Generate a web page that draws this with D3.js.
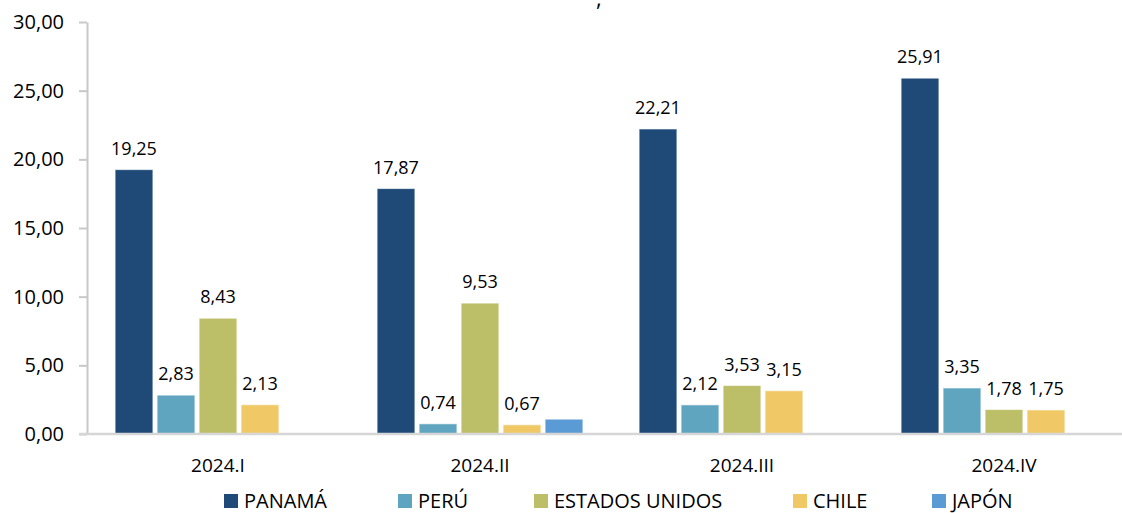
<!DOCTYPE html>
<html>
<head>
<meta charset="utf-8">
<script src="https://cdn.jsdelivr.net/npm/d3@7"></script>
<style>
  body { margin: 0; background: #fff; }
  svg { font-family: "Open Sans", sans-serif; }
</style>
</head>
<body>
<div id="container"></div>
<script>
const categories = ["2024.I", "2024.II", "2024.III", "2024.IV"];
const series = ["PANAMÁ", "PERÚ", "ESTADOS UNIDOS", "CHILE", "JAPÓN"];
const panama = [19.25, 17.87, 22.21, 25.91];
const peru = [2.83, 0.74, 2.12, 3.35];
const estadosUnidos = [8.43, 9.53, 3.53, 1.78];
const chile = [2.13, 0.67, 3.15, 1.75];
const japon = [null, 1.08, null, null];
const yTicks = [0, 5, 10, 15, 20, 25, 30];
const colors = ["#1f4a78", "#5fa5c0", "#bcbf68", "#f0c966", "#5b9bd5"];
const showLabel = [true, true, true, true, false];

const valuesBySeries = [panama, peru, estadosUnidos, chile, japon];

const width = 1122;
const height = 513;

const svg = d3.select("#container").append("svg")
  .attr("width", width).attr("height", height);

const y = d3.scaleLinear().domain([0, 30]).range([434, 22]);
const x0 = d3.scaleBand().domain(categories).range([87, 1135]).paddingInner(0);
const x1 = d3.scaleBand().domain(series).range([26, x0.bandwidth() - 26])
  .paddingInner(0.1).paddingOuter(0.05);

const fmt = (v) => v.toFixed(2).replace(".", ",");

// cut-off title fragment
svg.append("text").attr("x", 596).attr("y", 6).attr("font-size", 22)
  .attr("fill", "#000").text(",");

// y axis
const yAxis = svg.append("g").attr("transform", "translate(87,0)")
  .call(d3.axisLeft(y).tickValues(yTicks).tickFormat(fmt).tickSizeInner(8).tickSizeOuter(0).tickPadding(15));
yAxis.select(".domain").attr("stroke", "#c8c8c8").attr("stroke-width", 2);
yAxis.selectAll(".tick line").attr("stroke", "#c8c8c8").attr("stroke-width", 2);
yAxis.selectAll(".tick text").attr("font-size", 20).attr("fill", "#000")
  .attr("font-family", "'Open Sans', sans-serif");

// bars
const groups = svg.selectAll("g.grp").data(categories).enter().append("g")
  .attr("class", "grp")
  .attr("transform", (d) => `translate(${x0(d)},0)`);

groups.each(function (cat, ci) {
  const g = d3.select(this);
  series.forEach((s, si) => {
    const v = valuesBySeries[si][ci];
    if (v == null) return;
    g.append("rect")
      .attr("x", x1(s))
      .attr("y", y(v))
      .attr("width", x1.bandwidth())
      .attr("height", y(0) - y(v))
      .attr("fill", colors[si])
      .attr("stroke", "#ffffff")
      .attr("stroke-opacity", 0.6)
      .attr("stroke-width", 1);
    if (showLabel[si]) {
      g.append("text")
        .attr("x", x1(s) + x1.bandwidth() / 2)
        .attr("y", y(v) - 15)
        .attr("text-anchor", "middle")
        .attr("font-size", 18)
        .attr("fill", "#000")
        .text(fmt(v));
    }
  });
});

// baseline
svg.append("line").attr("x1", 79).attr("x2", width).attr("y1", y(0)).attr("y2", y(0))
  .attr("stroke", "#d6d6d6").attr("stroke-width", 2.5);

// category labels
svg.selectAll("text.cat").data(categories).enter().append("text")
  .attr("class", "cat")
  .attr("x", (d) => x0(d) + x0.bandwidth() / 2)
  .attr("y", 472)
  .attr("text-anchor", "middle")
  .attr("font-size", 19)
  .attr("fill", "#000")
  .text((d) => d);

// legend
const legendX = [224, 398, 534, 793, 932];
const legend = svg.selectAll("g.leg").data(series).enter().append("g")
  .attr("class", "leg")
  .attr("transform", (d, i) => `translate(${legendX[i]},494)`);
legend.append("rect").attr("width", 14).attr("height", 14)
  .attr("fill", (d, i) => colors[i]);
legend.append("text").attr("x", 20).attr("y", 14)
  .attr("font-size", 20).attr("fill", "#000").text((d) => d);
</script>
</body>
</html>
